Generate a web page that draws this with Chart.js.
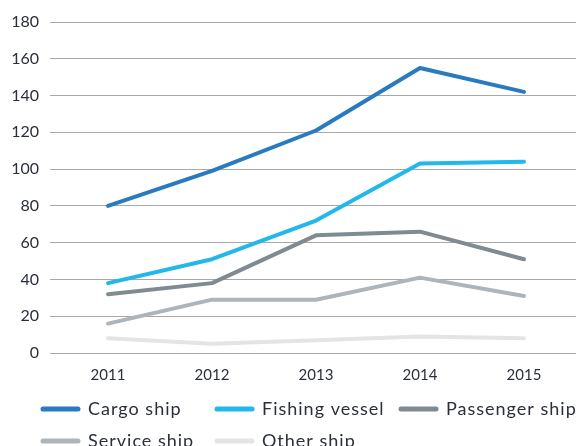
<!DOCTYPE html>
<html>
<head>
<meta charset="utf-8">
<script src="https://cdn.jsdelivr.net/npm/chart.js@4"></script>
<style>
  html, body { margin: 0; padding: 0; background: #fff; overflow: hidden; }
  #wrap { width: 576px; height: 446px; }
</style>
</head>
<body>
<div id="wrap"><canvas id="ships"></canvas></div>
<script>
const years = ["2011", "2012", "2013", "2014", "2015"];
const seriesNames = ["Cargo ship", "Fishing vessel", "Passenger ship", "Service ship", "Other ship"];
const cargo = [80, 99, 121, 155, 142];
const fishing = [38, 51, 72, 103, 104];
const passenger = [32, 38, 64, 66, 51];
const service = [16, 29, 29, 41, 31];
const other = [8, 5, 7, 9, 8];
const colors = ["#2a7abf", "#22b8ea", "#7f8a91", "#adb4ba", "#e4e4e4"];

const textColor = "#2b2f3a";
const fontFamily = "Lato, 'Noto Sans', sans-serif";

// legend drawn by hand so the columns line up like the original
const shipLegend = {
  id: "shipLegend",
  afterDraw(chart) {
    const ctx = chart.ctx;
    const cols = [41, 215, 399];
    const rows = [409, 441];
    ctx.save();
    ctx.font = "18px " + fontFamily;
    ctx.letterSpacing = "1px";
    ctx.textBaseline = "middle";
    ctx.textAlign = "left";
    chart.data.datasets.forEach((ds, i) => {
      const x = cols[i % 3];
      const y = rows[Math.floor(i / 3)];
      ctx.strokeStyle = ds.borderColor;
      ctx.lineWidth = 5;
      ctx.lineCap = "round";
      ctx.beginPath();
      ctx.moveTo(x + 2, y);
      ctx.lineTo(x + 37, y);
      ctx.stroke();
      ctx.fillStyle = textColor;
      ctx.fillText(ds.label, x + 47, y);
    });
    ctx.restore();
  },
};

const allSeries = [cargo, fishing, passenger, service, other];

new Chart(document.getElementById("ships"), {
  type: "line",
  data: {
    labels: years,
    datasets: allSeries.map((values, i) => ({
      label: seriesNames[i],
      data: values,
      borderColor: colors[i],
      backgroundColor: colors[i],
      borderWidth: 4,
      pointRadius: 0,
      tension: 0,
      borderCapStyle: "round",
      borderJoinStyle: "round",
      fill: false,
    })),
  },
  options: {
    responsive: true,
    maintainAspectRatio: false,
    animation: false,
    layout: { padding: { top: 22, right: 0, bottom: 49, left: 0 } },
    plugins: {
      legend: { display: false },
      tooltip: { enabled: false },
    },
    scales: {
      x: {
        offset: true,
        grid: { display: false, drawTicks: false },
        border: { display: false },
        ticks: { color: textColor, font: { family: fontFamily, size: 15 }, padding: 13 },
      },
      y: {
        min: 0,
        max: 180,
        ticks: { stepSize: 20, color: textColor, font: { family: fontFamily, size: 16 }, padding: 11 },
        grid: { color: "#a8a8a8", lineWidth: 1, tickLength: 6, tickColor: "#a8a8a8" },
        border: { display: false },
        afterFit(scale) { scale.width = 56; },
      },
    },
  },
  plugins: [shipLegend],
});
</script>
</body>
</html>
